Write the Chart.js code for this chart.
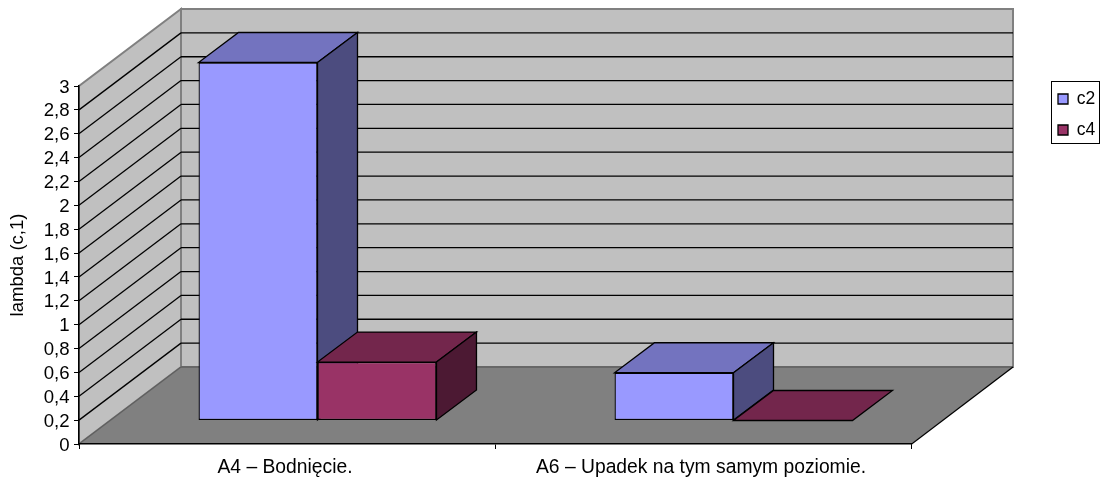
<!DOCTYPE html>
<html lang="pl">
<head>
  <meta charset="UTF-8">
  <title>lambda (c,1)</title>
  <script src="https://cdn.jsdelivr.net/npm/chart.js"></script>
  <style>
    html, body { margin: 0; padding: 0; background: #fff; }
    canvas { display: block; }
  </style>
</head>
<body>
  <canvas id="wykres" width="1105" height="477"></canvas>

  <script>
    const kategorie = ['A4 – Bodnięcie.', 'A6 – Upadek na tym samym poziomie.'];
    const c2 = [3, 0.4];
    const c4 = [0.49, 0];
    const yEtykiety = ['0', '0,2', '0,4', '0,6', '0,8', '1', '1,2', '1,4', '1,6', '1,8', '2', '2,2', '2,4', '2,6', '2,8', '3'];

    // przesuniecie tylnej sciany i glebokosc slupkow
    const sciana = { dx: 102, dy: 77 };
    const przod = { dx: 30.5, dy: 23.5 };
    const slupek = { dx: 40, dy: 30 };

    Chart.defaults.font.family = '"Liberation Sans", Arial, sans-serif';
    Chart.defaults.color = '#000';

    function wielokat(ctx, punkty, wypelnienie, kreska, grubosc) {
      ctx.beginPath();
      punkty.forEach((p, i) => i ? ctx.lineTo(p[0], p[1]) : ctx.moveTo(p[0], p[1]));
      ctx.closePath();
      ctx.fillStyle = wypelnienie;
      ctx.fill();
      if (kreska) {
        ctx.strokeStyle = kreska;
        ctx.lineWidth = grubosc || 1;
        ctx.stroke();
      }
    }

    function linia(ctx, x1, y1, x2, y2) {
      ctx.beginPath();
      ctx.moveTo(x1, y1);
      ctx.lineTo(x2, y2);
      ctx.stroke();
    }

    const scena3d = {
      id: 'scena3d',
      afterLayout(chart) {
        // legenda w ramce po prawej stronie
        const l = chart.legend;
        l.left = 1044.5; l.right = 1100; l.top = 76.75; l.bottom = 300;
      },
      beforeDraw(chart) {
        const ctx = chart.ctx;
        const a = chart.chartArea;
        const y = chart.scales.y;
        const dx = sciana.dx, dy = sciana.dy;
        ctx.save();
        // lewa sciana, tylna sciana, podloga
        wielokat(ctx, [[a.left, a.bottom], [a.left, a.top], [a.left + dx, a.top - dy], [a.left + dx, a.bottom - dy]], '#C0C0C0', '#808080', 2);
        wielokat(ctx, [[a.left + dx, a.top - dy], [a.right + dx, a.top - dy], [a.right + dx, a.bottom - dy], [a.left + dx, a.bottom - dy]], '#C0C0C0', '#808080', 2);
        // linie siatki
        ctx.strokeStyle = '#000';
        ctx.lineWidth = 1.3;
        y.ticks.forEach((t, i) => {
          if (i === 0 || i === y.ticks.length - 1) return;
          const py = y.getPixelForValue(t.value);
          linia(ctx, a.left, py, a.left + dx, py - dy);
          linia(ctx, a.left + dx, py - dy, a.right + dx, py - dy);
        });
        wielokat(ctx, [[a.left, a.bottom], [a.right, a.bottom], [a.right + dx, a.bottom - dy], [a.left + dx, a.bottom - dy]], '#808080');
        ctx.strokeStyle = '#5f5f5f';
        linia(ctx, a.left, a.bottom, a.left + dx, a.bottom - dy);
        linia(ctx, a.left + dx, a.bottom - dy, a.right + dx, a.bottom - dy);
        ctx.strokeStyle = '#000';
        linia(ctx, a.right, a.bottom + 0.5, a.right + dx, a.bottom - dy);
        ctx.restore();
      },
      // serie rysuje dopiero afterDatasetsDraw, od lewej do prawej
      beforeDatasetDraw() {
        return false;
      },
      afterDatasetsDraw(chart) {
        const ctx = chart.ctx;
        ctx.save();
        ctx.translate(przod.dx, -przod.dy);
        chart.data.datasets.forEach((ds, i) => {
          const meta = chart.getDatasetMeta(i);
          meta.controller.draw();
          meta.data.forEach(b => {
            const l = b.x - b.width / 2, r = b.x + b.width / 2;
            const dx = slupek.dx, dy = slupek.dy;
            wielokat(ctx, [[l, b.y], [r, b.y], [r + dx, b.y - dy], [l + dx, b.y - dy]], ds.kolorGora, '#000', 1.3);
            if (b.base - b.y > 0) {
              wielokat(ctx, [[r, b.y], [r + dx, b.y - dy], [r + dx, b.base - dy], [r, b.base]], ds.kolorBok, '#000', 1.3);
            }
          });
        });
        ctx.restore();
      },
      afterDraw(chart) {
        const ctx = chart.ctx;
        ctx.save();
        ctx.strokeStyle = '#000';
        ctx.lineWidth = 1;
        ctx.strokeRect(1051.5, 81.5, 48, 62);
        ctx.restore();
      }
    };

    new Chart(document.getElementById('wykres'), {
      type: 'bar',
      data: {
        labels: kategorie,
        datasets: [
          { label: 'c2', data: c2, backgroundColor: '#9999FF', kolorGora: '#7373BF', kolorBok: '#4C4C7F', borderColor: '#000', borderWidth: 1.3, borderSkipped: false },
          { label: 'c4', data: c4, backgroundColor: '#993366', kolorGora: '#73264C', kolorBok: '#4C1933', borderColor: '#000', borderWidth: 1.3, borderSkipped: false }
        ]
      },
      options: {
        responsive: false,
        animation: false,
        layout: { padding: { left: 0, right: 194, top: 86, bottom: 0 } },
        categoryPercentage: 0.572,
        barPercentage: 1,
        plugins: {
          tooltip: { enabled: false },
          legend: {
            position: 'chartArea',
            align: 'start',
            labels: { boxWidth: 10, boxHeight: 10, padding: 13.5, font: { size: 17.5 }, color: '#000' }
          }
        },
        scales: {
          x: {
            grid: { drawOnChartArea: false, color: '#000', tickLength: 5 },
            border: { color: '#000', width: 1.5 },
            ticks: { font: { size: 19.3 }, maxRotation: 0, padding: 7, labelOffset: -2 },
            afterFit(s) { s.height = 33; }
          },
          y: {
            min: 0,
            max: 3,
            grid: { drawOnChartArea: false, color: '#000', tickLength: 5 },
            border: { color: '#000', width: 1.5 },
            ticks: { stepSize: 0.2, autoSkip: false, font: { size: 18.6 }, padding: 4.5, labelOffset: 1.5, callback: (v, i) => yEtykiety[i] },
            title: { display: true, text: 'lambda (c,1)', font: { size: 18.5 }, padding: { top: 7, bottom: 0 } },
            afterFit(s) { s.width = 79; }
          }
        }
      },
      plugins: [scena3d]
    });
  </script>
</body>
</html>
